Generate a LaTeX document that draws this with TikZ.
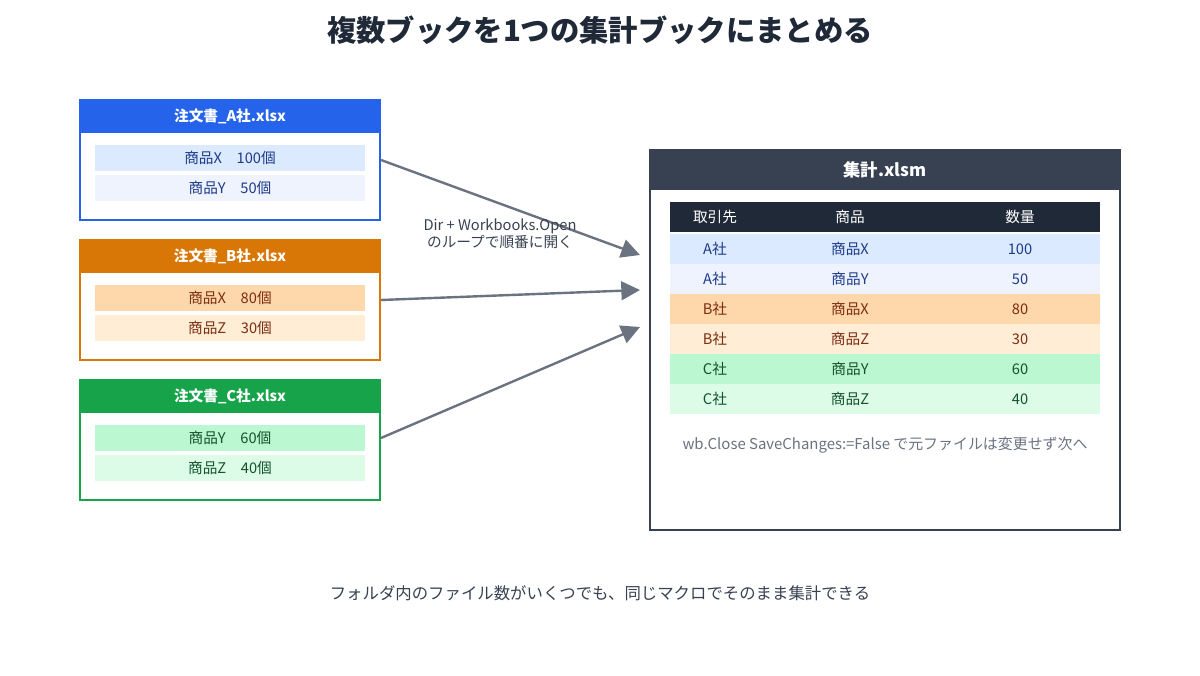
\documentclass[tikz,border=0pt]{standalone}
\usepackage{fontspec}
\setmainfont{Noto Sans CJK JP}
\usetikzlibrary{arrows.meta, positioning}
\definecolor{ink}{HTML}{1F2937}
\definecolor{slate}{HTML}{374151}
\definecolor{arrowgray}{HTML}{6B7280}
\definecolor{blueH}{HTML}{2563EB}
\definecolor{blueA}{HTML}{DBEAFE}
\definecolor{blueB}{HTML}{EEF3FE}
\definecolor{blueT}{HTML}{1E3A8A}
\definecolor{orgH}{HTML}{D97706}
\definecolor{orgA}{HTML}{FED7AA}
\definecolor{orgB}{HTML}{FFEDD5}
\definecolor{orgT}{HTML}{7C2D12}
\definecolor{grnH}{HTML}{16A34A}
\definecolor{grnA}{HTML}{BBF7D0}
\definecolor{grnB}{HTML}{DCFCE7}
\definecolor{grnT}{HTML}{14532D}
\tikzset{
  frame/.style={draw=#1, line width=1.5pt, minimum width=225pt, minimum height=90pt, inner sep=0pt},
  head/.style={fill=#1, text=white, font=\bfseries\fontsize{11}{13}\selectfont, minimum width=225pt, minimum height=25pt, inner sep=0pt},
  cell/.style={fill=#1, minimum width=202.5pt, minimum height=19.5pt, inner sep=0pt, font=\fontsize{11}{13}\selectfont},
  trow/.style={fill=#1, minimum width=322.5pt, minimum height=22.5pt, inner sep=0pt},
  tcell/.style={font=\fontsize{11}{13}\selectfont, inner sep=0pt},
  flow/.style={draw=arrowgray, line width=1.8pt, -{Triangle[length=14pt, width=14pt]}}
}
\begin{document}
\begin{tikzpicture}[x=0.75pt, y=-0.75pt]
\useasboundingbox (0,0) rectangle (1200,675);
\node[font=\bfseries\fontsize{22}{26}\selectfont, text=ink] (title) at (600,30) {複数ブックを1つの集計ブックにまとめる};
% source books
\node[frame=blueH] (bookA) at (230,160) {};
\node[head=blueH] (headA) at (230,116.5) {注文書\_A社.xlsx};
\node[cell=blueA, text=blueT] (a1) at (230,158) {商品X\quad 100個};
\node[cell=blueB, text=blueT] (a2) at (230,188) {商品Y\quad 50個};
\node[frame=orgH] (bookB) at (230,300) {};
\node[head=orgH] (headB) at (230,256.5) {注文書\_B社.xlsx};
\node[cell=orgA, text=orgT] (b1) at (230,298) {商品X\quad 80個};
\node[cell=orgB, text=orgT] (b2) at (230,328) {商品Z\quad 30個};
\node[frame=grnH] (bookC) at (230,440) {};
\node[head=grnH] (headC) at (230,396.5) {注文書\_C社.xlsx};
\node[cell=grnA, text=grnT] (c1) at (230,438) {商品Y\quad 60個};
\node[cell=grnB, text=grnT] (c2) at (230,468) {商品Z\quad 40個};
% summary book
\node[draw=slate, line width=1.5pt, minimum width=352.5pt, minimum height=285pt, inner sep=0pt] (sum) at (885,340) {};
\node[fill=slate, text=white, font=\bfseries\fontsize{13}{15}\selectfont, minimum width=352.5pt, minimum height=30pt, inner sep=0pt] (sumhead) at (885,170) {集計.xlsm};
\node[trow=ink] (th) at (885,216.5) {};
\foreach \x/\t in {715/取引先, 850/商品, 1020/数量}
  \node[tcell, text=white] at (\x,216.5) {\t};
\foreach \i/\bg/\fg/\co/\it/\n in {0/blueA/blueT/A社/商品X/100, 1/blueB/blueT/A社/商品Y/50, 2/orgA/orgT/B社/商品X/80, 3/orgB/orgT/B社/商品Z/30, 4/grnA/grnT/C社/商品Y/60, 5/grnB/grnT/C社/商品Z/40} {
  \node[trow=\bg] (r\i) at (885,249+30*\i) {};
  \node[tcell, text=\fg] at (715,249+30*\i) {\co};
  \node[tcell, text=\fg] at (850,249+30*\i) {\it};
  \node[tcell, text=\fg] at (1020,249+30*\i) {\n};
}
\node[font=\fontsize{11.2}{13}\selectfont, text=arrowgray] (note) at (885,445) {wb.Close SaveChanges:=False で元ファイルは変更せず次へ};
% arrows
\coordinate (inA) at (640,255);
\coordinate (inB) at (640,290);
\coordinate (inC) at (640,327);
\draw[flow] (bookA.east |- 0,160) -- (inA);
\draw[flow] (bookB.east) -- (inB);
\draw[flow] (bookC.east |- 0,438) -- (inC);
\node[font=\fontsize{11}{13}\selectfont, text=slate, align=center] (loop) at (500,234) {Dir + Workbooks.Open\\のループで順番に開く};
\node[font=\fontsize{12.3}{14}\selectfont, text=slate] (caption) at (600,593) {フォルダ内のファイル数がいくつでも、同じマクロでそのまま集計できる};
\end{tikzpicture}
\end{document}
